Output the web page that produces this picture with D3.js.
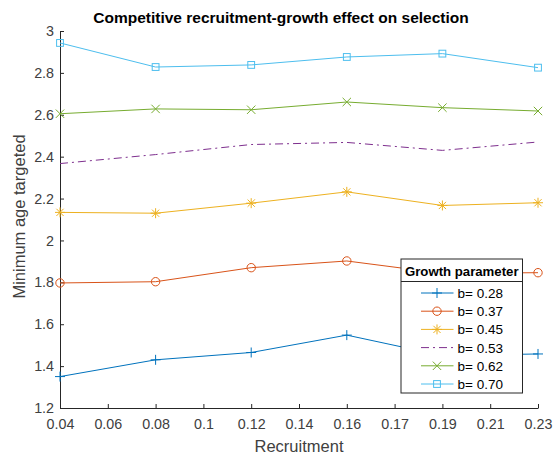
<!DOCTYPE html>
<html>
<head>
<meta charset="utf-8">
<script src="https://cdn.jsdelivr.net/npm/d3@7"></script>
<style>
  html, body { margin: 0; padding: 0; background: #fff; }
  svg { display: block; font-family: "Liberation Sans", Arial, Helvetica, sans-serif; }
</style>
</head>
<body>
<svg id="chart" width="556" height="457"></svg>
<script>
// Recruitment sample points (evenly spaced across the axis)
const recruitment = [0.04, 0.078, 0.116, 0.154, 0.192, 0.23];

// x tick positions and their printed labels
const xTickValues = [0.04, 0.059, 0.078, 0.097, 0.116, 0.135, 0.154, 0.173, 0.192, 0.211, 0.23];
const xTickLabels = ["0.04", "0.06", "0.08", "0.1", "0.12", "0.14", "0.16", "0.17", "0.19", "0.21", "0.23"];
const yTickValues = [1.2, 1.4, 1.6, 1.8, 2, 2.2, 2.4, 2.6, 2.8, 3];
const yTickLabels = ["1.2", "1.4", "1.6", "1.8", "2", "2.2", "2.4", "2.6", "2.8", "3"];

// Growth parameter series: minimum age targeted
const seriesNames = ["b= 0.28", "b= 0.37", "b= 0.45", "b= 0.53", "b= 0.62", "b= 0.70"];
const b028 = [1.35, 1.43, 1.465, 1.548, 1.45, 1.458];
const b037 = [1.797, 1.803, 1.87, 1.902, 1.843, 1.846];
const b045 = [2.134, 2.13, 2.178, 2.232, 2.167, 2.18];
const b053 = [2.367, 2.41, 2.458, 2.468, 2.43, 2.47];
const b062 = [2.605, 2.628, 2.624, 2.661, 2.634, 2.618];
const b070 = [2.943, 2.828, 2.838, 2.876, 2.892, 2.825];
const seriesValues = [b028, b037, b045, b053, b062, b070];
const seriesColors = ["#0072BD", "#D95319", "#EDB120", "#7E2F8E", "#77AC30", "#4DBEEE"];
const seriesMarkers = ["plus", "circle", "star", "none", "cross", "square"];
const seriesDash = [null, null, null, "8,4,2,4", null, null];

const svg = d3.select("#chart");
const margin = { left: 60, right: 18, top: 31, bottom: 49 };
const W = 556, H = 457;

const x = d3.scaleLinear().domain([0.04, 0.23]).range([margin.left, W - margin.right]);
const y = d3.scaleLinear().domain([1.2, 3]).range([H - margin.bottom, margin.top]);

const axisColor = "#262626";
const tickTextColor = "#404040";

// Axes (ticks drawn inward)
const xAxis = d3.axisBottom(x).tickValues(xTickValues)
  .tickFormat((d, i) => xTickLabels[i]).tickSizeInner(-4).tickSizeOuter(0).tickPadding(11);
const yAxis = d3.axisLeft(y).tickValues(yTickValues)
  .tickFormat((d, i) => yTickLabels[i]).tickSizeInner(-4).tickSizeOuter(0).tickPadding(6);

const gx = svg.append("g").attr("transform", `translate(0,${H - margin.bottom})`).call(xAxis);
const gy = svg.append("g").attr("transform", `translate(${margin.left},0)`).call(yAxis);
[gx, gy].forEach(g => {
  g.select(".domain").attr("stroke", axisColor).attr("stroke-width", 1);
  g.selectAll(".tick line").attr("stroke", axisColor);
  g.selectAll(".tick text").attr("fill", tickTextColor).attr("font-size", 14.3);
});

// Series lines
const line = d3.line().x((d, i) => x(recruitment[i])).y(d => y(d));

// Marker half-sizes per shape
const markerSize = { plus: 5, circle: 4.2, star: 5, cross: 4.2, square: 3.4 };

function drawMarker(g, type, cx, cy, color) {
  const s = markerSize[type] || 0;
  if (type === "plus") {
    g.append("path").attr("d", `M${cx - s},${cy}H${cx + s}M${cx},${cy - s}V${cy + s}`)
      .attr("stroke", color).attr("fill", "none");
  } else if (type === "circle") {
    g.append("circle").attr("cx", cx).attr("cy", cy).attr("r", s)
      .attr("stroke", color).attr("fill", "none");
  } else if (type === "star") {
    const d = s * 0.72;
    g.append("path").attr("d",
      `M${cx - s},${cy}H${cx + s}M${cx},${cy - s}V${cy + s}M${cx - d},${cy - d}L${cx + d},${cy + d}M${cx - d},${cy + d}L${cx + d},${cy - d}`)
      .attr("stroke", color).attr("fill", "none");
  } else if (type === "cross") {
    g.append("path").attr("d", `M${cx - s},${cy - s}L${cx + s},${cy + s}M${cx - s},${cy + s}L${cx + s},${cy - s}`)
      .attr("stroke", color).attr("fill", "none");
  } else if (type === "square") {
    g.append("rect").attr("x", cx - s).attr("y", cy - s).attr("width", 2 * s).attr("height", 2 * s)
      .attr("stroke", color).attr("fill", "none");
  }
}

seriesValues.forEach((vals, k) => {
  const g = svg.append("g");
  g.append("path").datum(vals).attr("d", line)
    .attr("fill", "none").attr("stroke", seriesColors[k]).attr("stroke-width", 1)
    .attr("stroke-dasharray", seriesDash[k]);
  vals.forEach((v, i) => drawMarker(g, seriesMarkers[k], x(recruitment[i]), y(v), seriesColors[k]));
});

// Title and axis labels
svg.append("text").attr("x", 281).attr("y", 22.5).attr("text-anchor", "middle")
  .attr("font-size", 15.5).attr("font-weight", "bold").attr("fill", "#000")
  .text("Competitive recruitment-growth effect on selection");
svg.append("text").attr("x", 299).attr("y", 452)
  .attr("text-anchor", "middle").attr("font-size", 16.5).attr("fill", tickTextColor)
  .text("Recruitment");
svg.append("text").attr("transform", `translate(25,${(margin.top + H - margin.bottom) / 2 - 3}) rotate(-90)`)
  .attr("text-anchor", "middle").attr("font-size", 16.5).attr("fill", tickTextColor)
  .text("Minimum age targeted");

// Legend
const lg = svg.append("g");
const lx0 = 401, lx1 = 522.5, ly0 = 259, ly1 = 393, lsep = 281.5;
lg.append("rect").attr("x", lx0).attr("y", ly0).attr("width", lx1 - lx0).attr("height", ly1 - ly0)
  .attr("fill", "#fff").attr("stroke", axisColor).attr("stroke-width", 1);
lg.append("line").attr("x1", lx0).attr("x2", lx1).attr("y1", lsep).attr("y2", lsep)
  .attr("stroke", axisColor);
lg.append("text").attr("x", (lx0 + lx1) / 2).attr("y", 275.5).attr("text-anchor", "middle")
  .attr("font-size", 13.2).attr("font-weight", "bold").attr("fill", "#000").text("Growth parameter");
seriesNames.forEach((name, k) => {
  const cy = 293 + k * 18.2;
  lg.append("line").attr("x1", 421).attr("x2", 453.5).attr("y1", cy).attr("y2", cy)
    .attr("stroke", seriesColors[k]).attr("stroke-dasharray", seriesDash[k]);
  drawMarker(lg, seriesMarkers[k], 437, cy, seriesColors[k]);
  lg.append("text").attr("x", 457.5).attr("y", cy + 5).attr("font-size", 13.5)
    .attr("fill", "#000").text(name);
});
</script>
</body>
</html>
